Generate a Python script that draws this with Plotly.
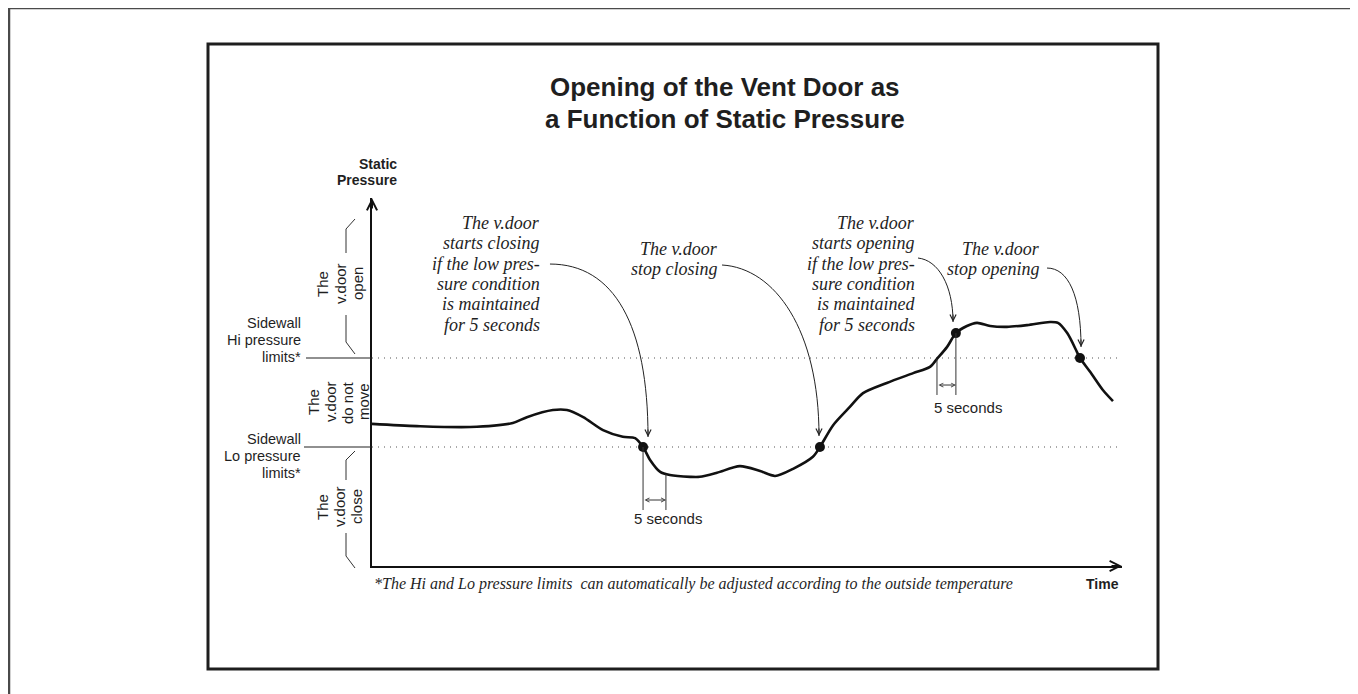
import plotly.graph_objects as go

# the page body has an 8px margin, so the figure is a bit smaller than the window
W, H = 1350, 686
OFF = 8
SANS = "Liberation Sans, Arial, sans-serif"
SERIF = "Liberation Serif, Times New Roman, serif"
INK = "#1f1f1f"

# static pressure (time in s, pressure in arbitrary units)
time_s = [0, 10.2, 22.3, 32.0, 35.2, 41.1, 44.3, 48.0, 52.5, 57.0,
          59.8, 61.6, 63.2, 65.5, 67.7, 72.3, 74.5, 78.4, 83.6, 88.2,
          91.6, 95.7, 100.2, 101.8, 104.8, 108.6, 111.6, 117.0, 123.0, 126.8,
          128.4, 130.7, 132.7, 135.2, 137.5, 140.5, 144.3, 148.9, 154.1, 155.9,
          158.0, 160.2, 160.9, 163.2, 166.1, 168.4]
pressure = [30.2, 29.7, 29.5, 30.4, 31.7, 33.3, 33.3, 31.7, 28.8, 27.3,
            27.0, 25.0, 22.1, 19.4, 18.7, 18.3, 18.3, 19.2, 20.7, 19.6,
            18.5, 20.1, 22.8, 25.0, 29.9, 34.0, 37.1, 39.4, 41.6, 43.0,
            44.8, 47.5, 50.6, 52.2, 52.9, 52.2, 52.0, 52.4, 53.1, 52.9,
            50.6, 46.4, 45.0, 41.9, 37.8, 35.3]

# moments where the vent door reacts
event_time = [61.6, 101.8, 132.7, 160.9]
event_pressure = [25.0, 25.0, 50.6, 45.0]

hi_limit = 45
lo_limit = 25
t_max = 170.45
p_min, p_max = -1.74, 80.96

# 5 second delays: start, end, level of the ticks on the curve
delay_start = [61.6, 128.4]
delay_end = [66.8, 132.7]
delay_start_p = [25.0, 44.8]
delay_end_p = [18.9, 50.6]

callouts = [
    ["The v.door", "starts closing", "if the low pres-", "sure condition", "is maintained", "for 5 seconds"],
    ["The v.door", "stop closing"],
    ["The v.door", "starts opening", "if the low pres-", "sure condition", "is maintained", "for 5 seconds"],
    ["The v.door", "stop opening"],
]


def px(x):
    return (x - OFF) / W


def py(y):
    return 1 - (y - OFF) / H


fig = go.Figure()

for lim in [hi_limit, lo_limit]:
    fig.add_trace(go.Scatter(x=[0, 169.5], y=[lim, lim], mode="lines",
                             line=dict(color="#555", width=1.2, dash="1px,5px"),
                             hoverinfo="skip"))

fig.add_trace(go.Scatter(x=time_s, y=pressure, mode="lines",
                         line=dict(color="#111", width=2.6, shape="spline", smoothing=0.8),
                         hoverinfo="skip"))
fig.add_trace(go.Scatter(x=event_time, y=event_pressure, mode="markers",
                         marker=dict(color="#111", size=10), hoverinfo="skip"))

shapes = []
# frames
shapes.append(dict(type="rect", xref="paper", yref="paper", x0=px(208), x1=px(1158),
                   y0=py(669), y1=py(44), line=dict(color="#1e1e1e", width=3)))
shapes.append(dict(type="path", xref="paper", yref="paper",
                   path=f"M {px(9)},{py(700)} L {px(9)},{py(8)} L {px(1356)},{py(8)}",
                   line=dict(color="#4a4a4a", width=2.5)))
shapes.append(dict(type="line", xref="paper", yref="paper", x0=px(1356), x1=px(1356),
                   y0=py(8), y1=py(700), line=dict(color="#9a9a9a", width=2)))

# limit ticks left of the axis
for lim, x0 in [(hi_limit, 306), (lo_limit, 304)]:
    shapes.append(dict(type="line", xref="paper", yref="y", x0=px(x0), x1=px(372),
                       y0=lim, y1=lim, line=dict(color="#222", width=1.2)))

# brackets round the rotated labels
for pts in [[(355, 219), (346, 229), (346, 253)], [(346, 315), (346, 342), (355, 354)],
            [(355, 451), (346, 460), (346, 480)], [(346, 533), (346, 556), (355, 568)]]:
    path = "M " + " L ".join(f"{px(a)},{py(b)}" for a, b in pts)
    shapes.append(dict(type="path", xref="paper", yref="paper", path=path,
                       line=dict(color="#333", width=1)))

# leader curves from the callouts to the curve
leaders = [
    [(40.45, 66.12), (55.0, 66.12), (62.73, 52.42), (62.73, 27.25)],
    [(79.55, 65.90), (91.59, 65.22), (101.59, 51.29), (101.59, 27.47)],
    [(124.09, 67.47), (128.64, 67.02), (132.05, 61.40), (132.05, 53.09)],
    [(153.41, 65.22), (158.18, 65.22), (161.14, 59.16), (161.14, 47.47)],
]
for a, b, c, d in leaders:
    shapes.append(dict(type="path", xref="x", yref="y",
                       path=f"M {a[0]},{a[1]} C {b[0]},{b[1]} {c[0]},{c[1]} {d[0]},{d[1]}",
                       line=dict(color="#222", width=1)))

# delay ticks
bottoms = [10.84, 36.69]
for i in range(2):
    shapes.append(dict(type="line", xref="x", yref="y", x0=delay_start[i], x1=delay_start[i],
                       y0=delay_start_p[i], y1=bottoms[i], line=dict(color="#333", width=1)))
    shapes.append(dict(type="line", xref="x", yref="y", x0=delay_end[i], x1=delay_end[i],
                       y0=delay_end_p[i], y1=bottoms[i], line=dict(color="#333", width=1)))

ann = []


def label(x, y, text, size=15, xanchor="center", family=SANS, italic=False, angle=0,
          xref="paper", yref="paper"):
    ann.append(dict(x=x, y=y, xref=xref, yref=yref, text=text, showarrow=False,
                    xanchor=xanchor, yanchor="middle", textangle=angle,
                    font=dict(family=family, size=size, color=INK,
                              style="italic" if italic else "normal")))


label(px(725), py(87), "<b>Opening of the Vent Door as</b>", size=26)
label(px(725), py(119), "<b>a Function of Static Pressure</b>", size=26)
label(px(399), py(164), "<b>Static</b>", size=14, xanchor="right")
label(px(399), py(180), "<b>Pressure</b>", size=14, xanchor="right")
label(px(1121), py(584), "<b>Time</b>", size=14, xanchor="right")
label(px(372), py(584),
      "*The Hi and Lo pressure limits&nbsp; can automatically be adjusted according to the outside temperature",
      size=16, xanchor="left", family=SERIF, italic=True)

for text, yy in [("Sidewall", 323), ("Hi pressure", 340), ("limits*", 357),
                 ("Sidewall", 439), ("Lo pressure", 456), ("limits*", 473)]:
    label(px(303), py(yy), text, size=14.5, xanchor="right")

for words, xs, yc in [(["The", "v.door", "open"], [322, 340, 357], 284),
                      (["The", "v.door", "do not", "move"], [314, 331, 348, 364], 402),
                      (["The", "v.door", "close"], [322, 339, 356], 507)]:
    for w, xx in zip(words, xs):
        label(px(xx), py(yc), w, angle=-90)

for lines, (xr, y0) in zip(callouts, [(542, 223), (720, 249), (917, 223), (1042, 249)]):
    for k, line in enumerate(lines):
        label(px(xr), py(y0 + 20.3 * k), line, size=18, xanchor="right", family=SERIF, italic=True)

label(67.3, 9.04, "5 seconds", xref="x", yref="y")
label(135.5, 33.99, "5 seconds", xref="x", yref="y")

# arrow heads
for a, b, c, d in leaders:
    ann.append(dict(x=d[0], y=d[1], xref="x", yref="y", ax=0, ay=-9, text="", showarrow=True,
                    arrowhead=5, arrowsize=1.2, arrowwidth=1, arrowcolor="#222"))
levels = [13.09, 38.93]
for i in range(2):
    ann.append(dict(x=delay_end[i], y=levels[i], ax=delay_start[i], ay=levels[i],
                    xref="x", yref="y", axref="x", ayref="y", text="", showarrow=True,
                    arrowside="end+start", arrowhead=5, startarrowhead=5,
                    arrowsize=0.8, startarrowsize=0.8, arrowwidth=1, arrowcolor="#333"))
ann.append(dict(x=t_max, y=p_min, xref="x", yref="y", ax=-12, ay=0, text="", showarrow=True,
                arrowhead=5, arrowsize=1, arrowwidth=2, arrowcolor="#111"))
ann.append(dict(x=0, y=p_max, xref="x", yref="y", ax=0, ay=12, text="", showarrow=True,
                arrowhead=5, arrowsize=1, arrowwidth=2, arrowcolor="#111"))

fig.update_layout(
    width=W, height=H, margin=dict(l=0, r=0, t=0, b=0),
    paper_bgcolor="white", plot_bgcolor="white", showlegend=False,
    xaxis=dict(domain=[px(372), px(1122)], range=[0, t_max], showgrid=False, zeroline=False,
               showticklabels=False, ticks="", showline=True, linecolor="#111", linewidth=2),
    yaxis=dict(domain=[py(566), py(198)], range=[p_min, p_max], showgrid=False,
               zeroline=False, showticklabels=False, ticks="", showline=True,
               linecolor="#111", linewidth=2),
    shapes=shapes, annotations=ann,
)

fig.write_html("out.html")
